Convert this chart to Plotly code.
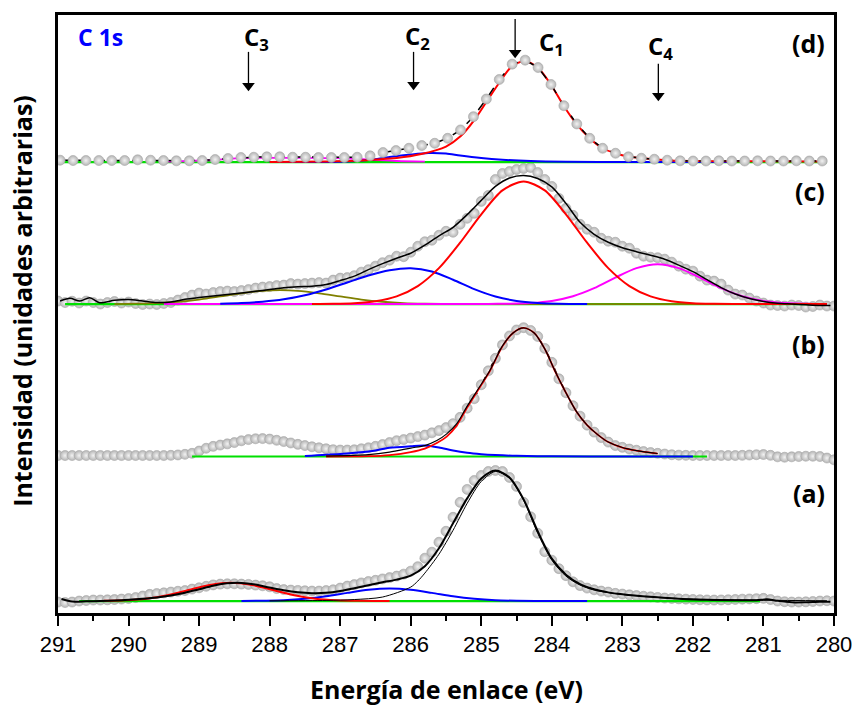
import plotly.graph_objects as go

# ---------------- energy grids (eV) ----------------
E_FINE = [round(291.0 - 0.1 * i, 1) for i in range(111)]      # spectra a, b, c
E_D = [round(290.97 - 0.1831 * i, 3) for i in range(60)]        # spectrum d

# vertical offsets of the stacked spectra (arbitrary units)
OFFSET_A, OFFSET_B, OFFSET_C, OFFSET_D = 12.0, 157.0, 310.0, 452.5

# ---------------- spectrum (d) ----------------
D_DATA = [1.8, 1.5, 1.5, 1.5, 1.5, 1.5, 2.2, 1.8, 1.5, 1.2, 1.2, 1.5, 2.5, 3.5, 4.5, 4.8,
          5.2, 5.2, 4.8, 4.8, 4.5, 4.5, 4.5, 4.8, 6.2, 9.5, 11.5, 13.8, 16.5, 18.8, 23.8,
          32.2, 45.5, 63.2, 82.8, 98.2, 102.2, 94.8, 77.8, 56.5, 38.2, 23.8, 13.8, 8.8,
          5.2, 3.8, 2.8, 1.8,
          1.2, 1.0, 1.0, 1.2, 1.0, 1.0, 1.2, 1.0, 1.0, 1.2, 1.0, 1.0]
D_RED_E = [288.0, 287.2, 286.8, 286.5, 286.2, 285.85, 285.5, 285.29, 285.11, 284.93, 284.74,
           284.56, 284.38, 284.19, 284.01, 283.83, 283.65, 283.46, 283.28, 283.10, 282.91,
           282.73, 282.55, 282.36, 282.18, 281.5, 280.2]
D_RED = [0.0, 0.5, 1.2, 2.5, 4.0, 8.0, 15.5, 26.0, 41.0, 60.0, 80.0, 96.5, 101.0, 94.0, 77.3,
         56.2, 38.0, 23.7, 13.8, 8.8, 5.2, 3.8, 2.8, 1.8, 1.2, 0.8, 0.6]
D_BLUE_E = [288.0, 287.0, 286.6, 286.3, 286.0, 285.75, 285.5, 285.3, 285.0, 284.7, 284.3,
            283.8, 283.0, 281.5]
D_BLUE = [0.0, 0.3, 2.0, 5.0, 7.5, 9.0, 8.5, 6.5, 4.0, 2.3, 1.0, 0.3, 0.0, 0.0]
D_MAG_E = [289.5, 288.8, 288.4, 288.0, 287.5, 287.0, 286.6, 286.2, 285.8]
D_MAG = [0.3, 2.0, 3.8, 4.2, 4.2, 3.8, 2.5, 1.0, 0.3]
D_BASE_E = [291.0, 280.1]
D_BASE = [-0.2, -0.2]

# ---------------- spectrum (c) ----------------
C_DATA = [3.0, 1.5, 2.8, 1.0, 3.0, 1.5, 0.0, 1.5, 2.5, 1.0,
          2.0, 0.5, -0.5, 0.0, -0.5, 0.5, 1.5, 4.0, 6.5, 9.0,
          11.0, 10.0, 11.5, 12.5, 13.0, 12.5, 13.5, 14.5, 16.0, 17.0,
          17.5, 18.5, 19.0, 20.5, 20.0, 20.5, 21.0, 21.5, 21.0, 24.0,
          26.0, 26.5, 28.5, 32.0, 34.5, 38.0, 41.5, 44.0, 48.0, 47.5,
          52.0, 58.0, 62.5, 64.0, 69.0, 73.0, 72.0, 80.0, 86.0, 91.0,
          103.0, 109.0, 125.0, 131.0, 133.0, 135.0, 136.0, 137.0, 132.0, 125.0,
          118.0, 106.0, 96.0, 89.0, 80.0, 75.0, 72.0, 66.0, 63.0, 62.0,
          58.0, 56.0, 51.0, 48.0, 47.0, 46.5, 45.0, 42.0, 38.0, 35.0,
          33.0, 28.0, 24.0, 23.0, 20.0, 14.0, 10.0, 9.0, 6.0, 3.0,
          1.0, -1.0, -1.5, -2.0, -1.0, -1.5, -3.0, -2.5, -1.0, -2.0,
          -2.0]
C_FIT_E = [290.97, 290.83, 290.69, 290.55, 290.41, 290.2, 290.0, 289.8, 289.6, 289.4, 289.2,
           289.0, 288.8, 288.6, 288.4, 288.2, 288.0, 287.8, 287.6, 287.4, 287.2, 287.0, 286.8,
           286.6, 286.4, 286.2, 286.0, 285.8, 285.6, 285.4, 285.2, 285.0, 284.8, 284.6, 284.4,
           284.2, 284.0, 283.8, 283.6, 283.4, 283.2, 283.0, 282.8, 282.6, 282.4, 282.2, 282.0,
           281.8, 281.6, 281.4, 281.2, 281.0, 280.8, 280.6, 280.4, 280.2, 280.05]
C_FIT = [3.0, 5.7, 3.0, 6.3, 1.3, 3.7, 4.5, 3.0, 1.5, 2.0, 4.7,
         6.5, 8.0, 9.5, 11.0, 12.8, 14.5, 16.3, 17.3, 17.8, 19.5, 23.5, 28.0,
         34.5, 40.5, 46.0, 51.0, 59.0, 68.5, 77.0, 89.7, 104.0, 118.0, 126.5, 129.0,
         126.0, 117.5, 101.0, 82.0, 70.0, 62.0, 56.5, 52.5, 49.0, 45.0, 39.0, 32.5,
         24.5, 16.5, 10.0, 5.5, 2.5, 0.8, 0.0, -0.8, -1.5, -1.5]
C_RED_E = [287.4, 287.1, 286.8, 286.5, 286.2, 285.9, 285.6, 285.3, 285.0, 284.7, 284.4, 284.1,
           283.8, 283.5, 283.2, 282.9, 282.6, 282.3, 282.0, 281.7, 281.2, 280.6, 280.1]
C_RED = [0.0, 0.2, 0.9, 2.8, 7.7, 18.0, 36.0, 61.5, 90.0, 114.0, 123.0, 114.0,
         90.0, 61.5, 36.0, 18.0, 7.7, 2.8, 0.9, 0.3, 0.0, 0.0, 0.0]
C_BLUE_E = [288.7, 288.4, 288.1, 287.8, 287.5, 287.2, 286.9, 286.6, 286.3, 286.0, 285.7,
            285.4, 285.1, 284.8, 284.5, 284.2, 283.9, 283.5]
C_BLUE = [0.3, 1.0, 2.3, 4.7, 8.8, 14.6, 21.6, 28.7, 34.0, 36.0, 32.7,
          24.4, 15.0, 7.6, 3.1, 1.1, 0.3, 0.0]
C_MAG_E = [289.5, 287.0, 285.5, 284.9, 284.6, 284.3, 284.0, 283.7, 283.4, 283.1, 282.8,
           282.5, 282.2, 281.9, 281.6, 281.3, 281.0, 280.7, 280.4, 280.1]
C_MAG = [0.0, 0.0, 0.0, 0.1, 0.3, 1.0, 3.1, 7.8, 15.9, 26.5, 36.0,
         40.0, 36.0, 26.5, 15.9, 7.8, 3.1, 1.0, 0.3, 0.0]
C_OLIVE_E = [290.2, 289.9, 289.6, 289.3, 289.0, 288.7, 288.4, 288.1, 287.85, 287.6, 287.3,
             287.0, 286.7, 286.4, 286.1, 285.8, 285.4, 284.5, 283.0, 281.5, 280.1]
C_OLIVE = [0.0, 0.4, 1.0, 2.3, 4.5, 7.6, 10.8, 13.3, 14.0, 13.3, 10.8,
           7.6, 4.5, 2.3, 1.0, 0.4, 0.0, 0.0, 0.0, 0.0, 0.0]
C_BASE_E = [290.9, 280.1]
C_BASE = [0.0, 0.0]

# ---------------- spectrum (b) ----------------
B_DATA = [1.0, 1.0, 1.0, 1.0, 1.0, 1.0, 1.0, 1.0, 1.0, 1.0,
          1.0, 1.0, 1.0, 1.0, 1.0, 1.0, 1.2, 1.6, 2.2, 3.2,
          5.5, 8.3, 10.2, 11.5, 12.7, 14.0, 15.8, 17.0, 17.8, 18.0,
          17.5, 16.3, 15.0, 13.6, 12.2, 11.0, 9.8, 8.8, 7.8, 6.9,
          6.5, 6.5, 6.8, 7.8, 8.8, 10.2, 12.0, 14.0, 15.9, 17.0,
          18.5, 20.0, 21.5, 23.8, 26.0, 29.0, 33.0, 39.3, 48.5, 58.0,
          72.0, 86.0, 98.5, 112.0, 121.0, 127.0, 129.3, 126.5, 120.5, 108.5,
          94.5, 78.0, 64.0, 51.0, 40.5, 31.5, 24.5, 19.0, 14.5, 11.0,
          9.2, 7.5, 6.3, 5.0, 4.0, 3.2, 2.5, 1.8, 1.4, 1.2,
          1.0, 1.0, 1.0, 1.0, 1.0, 1.0, 1.0, 1.2, 1.5, 1.8,
          2.0, 1.2, -0.3, -0.7, -0.3, 0.0, 0.3, 0.3, 0.0, -1.5,
          -3.3]
B_FIT_E = [287.2, 286.6, 286.3, 286.0, 285.8, 285.63, 285.49, 285.35, 285.21, 285.06, 284.88,
           284.7, 284.55, 284.4, 284.25, 284.1, 283.95, 283.8, 283.65, 283.5, 283.35, 283.2,
           283.0, 282.8, 282.5]
B_FIT = [0.5, 2.0, 4.5, 8.5, 11.0, 16.0, 22.7, 32.7, 49.3, 66.0, 86.0,
         111.0, 124.0, 129.0, 124.0, 108.0, 85.0, 64.0, 45.0, 31.5, 22.0, 14.5,
         9.0, 6.0, 3.0]
B_RED = [0.0, 0.3, 1.5, 4.5, 8.0, 13.5, 20.0, 31.0, 48.0, 65.0, 85.5,
         110.5, 124.0, 129.0, 124.0, 108.0, 85.0, 64.0, 45.0, 31.5, 22.0, 14.5,
         9.0, 6.0, 3.0]
B_BLUE_E = [287.5, 287.0, 286.6, 286.3, 286.0, 285.8, 285.6, 285.4, 285.2, 285.0, 284.8,
            284.5, 284.0, 283.0, 282.0]
B_BLUE = [0.5, 2.5, 5.0, 8.7, 10.3, 11.0, 9.0, 6.0, 3.8, 2.4, 1.5, 0.7, 0.2, 0.0, 0.0]
B_BASE_E = [289.1, 281.8]
B_BASE = [0.0, 0.0]

# ---------------- spectrum (a) ----------------
A_DATA = [-1.0, -1.5, -1.0, 0.0, 0.5, 1.0, 1.0, 1.2, 1.5, 2.0,
          2.5, 3.5, 5.0, 6.7, 7.5, 8.2, 9.0, 9.8, 10.5, 12.0,
          13.3, 14.8, 16.2, 17.0, 17.3, 17.3, 17.0, 16.7, 16.0, 15.3,
          14.3, 12.5, 11.5, 11.0, 10.7, 10.3, 10.0, 10.0, 10.5, 11.3,
          13.0, 15.0, 16.5, 18.2, 19.6, 20.8, 22.2, 23.5, 25.0, 27.0,
          30.0, 34.5, 43.0, 49.0, 59.0, 70.0, 84.0, 99.0, 112.0, 121.0,
          126.0, 130.0, 131.0, 130.0, 124.0, 115.0, 99.0, 84.5, 68.0, 49.5,
          41.0, 32.5, 25.5, 19.3, 15.5, 13.0, 11.3, 10.0, 9.0, 7.7,
          7.0, 6.2, 5.5, 4.8, 4.2, 3.6, 3.0, 2.6, 2.2, 1.9,
          1.6, 1.3, 1.1, 1.0, 1.1, 1.3, 1.6, 1.9, 2.1, 2.4,
          2.7, 1.5, 0.0, -0.7, -1.0, -1.0, -0.8, -0.5, 0.0, 0.3,
          0.0]
A_FIT_E = [290.95, 290.8, 290.6, 290.4, 290.2, 290.0, 289.8, 289.6, 289.4, 289.2, 289.0,
           288.8, 288.6, 288.4, 288.2, 288.0, 287.8, 287.6, 287.4, 287.2, 287.0, 286.8,
           286.6, 286.4, 286.2, 286.0, 285.8, 285.6, 285.4, 285.2, 285.0, 284.8, 284.6,
           284.4, 284.2, 284.0, 283.8, 283.6, 283.4, 283.2, 283.0, 282.6, 282.2, 281.8,
           281.4, 281.1, 280.95, 280.8, 280.6, 280.4, 280.2, 280.05]
A_FIT = [2.0, -0.5, -0.3, 0.0, 0.5, 1.2, 2.2, 3.5, 5.5, 8.3, 11.8,
         15.3, 17.8, 18.2, 16.5, 13.5, 10.8, 8.8, 7.9, 8.2, 10.0, 12.8,
         15.8, 18.8, 21.5, 25.5, 35.0, 53.0, 78.0, 103.0, 123.0, 131.0, 124.0,
         102.0, 70.0, 42.5, 26.5, 17.0, 11.8, 8.7, 6.8, 4.2, 2.4, 1.2,
         0.8, 0.8, 1.8, 0.2, -1.3, -1.2, -0.6, -0.7]
A_C1_E = [288.0, 287.2, 286.8, 286.4, 286.0, 285.9, 285.8, 285.6, 285.4, 285.2, 285.0, 284.8,
          284.6, 284.4, 284.2, 284.0, 283.8, 283.6, 283.4, 283.1, 282.7, 282.3, 281.8, 281.0,
          280.1]
A_C1 = [0.2, 0.6, 1.5, 4.0, 14.0, 20.0, 28.0, 47.0, 71.0, 98.0, 120.0, 130.0,
        123.0, 101.0, 68.0, 41.0, 25.0, 16.0, 11.0, 7.5, 4.6, 2.8, 1.6, 0.8, 0.3]
A_RED_E = [290.35, 290.05, 289.75, 289.45, 289.15, 288.85, 288.55, 288.25, 287.95, 287.65,
           287.35, 287.05, 286.75, 286.3]
A_RED = [0.2, 0.8, 2.4, 5.8, 11.0, 16.1, 18.3, 16.1, 11.0, 5.8, 2.4, 0.8, 0.2, 0.0]
A_BLUE_E = [288.4, 288.1, 287.8, 287.5, 287.2, 286.9, 286.6, 286.3, 286.0, 285.7, 285.4,
            285.1, 284.8, 284.5, 284.0, 283.5]
A_BLUE = [0.0, 0.3, 0.8, 2.2, 4.7, 8.2, 11.4, 12.7, 11.4, 8.2, 4.7, 2.2, 0.8, 0.3, 0.0, 0.0]
A_BASE_E = [290.7, 281.05]
A_BASE = [0.0, 0.0]

# ---------------- labels ----------------
PANEL_LABELS = ["(a)", "(b)", "(c)", "(d)"]
PANEL_LABEL_Y = [120.0, 270.0, 423.0, 572.0]
PEAK_LABELS = ["C<sub>1</sub>", "C<sub>2</sub>", "C<sub>3</sub>", "C<sub>4</sub>"]
PEAK_LABEL_E = [284.01, 285.91, 288.19, 282.46]
PEAK_LABEL_Y = [572.0, 578.0, 577.0, 568.0]
PEAK_ARROW_E = [284.52, 285.96, 288.30, 282.49]
PEAK_ARROW_TIP = [556.0, 524.0, 523.0, 513.0]
PEAK_ARROW_TAIL = [596.0, 563.0, 563.0, 551.0]

RED, BLUE, MAG, OLIVE, GREEN = "#ff0000", "#0000ff", "#ff00ff", "#808000", "#00e000"
TITLE_FONT = "Open Sans"

fig = go.Figure()


def add_line(xs, ys, offset, color, width=2.0, dash="solid"):
    fig.add_trace(go.Scatter(
        x=xs, y=[offset + v for v in ys], mode="lines",
        line=dict(color=color, width=width, dash=dash, shape="spline", smoothing=0.8),
        hoverinfo="skip"))


def add_points(xs, ys, offset, connect=False):
    fig.add_trace(go.Scatter(
        x=xs, y=[offset + v for v in ys],
        mode="lines+markers" if connect else "markers",
        line=dict(color="black", width=1.5, dash="dash"),
        marker=dict(size=10, color="#b5b5b5",
                    gradient=dict(type="radial", color="#f2f2f2"),
                    line=dict(color="#a6a6a6", width=0.6)),
        hoverinfo="skip"))


# (a)
add_points(E_FINE, A_DATA, OFFSET_A)
add_line(A_BASE_E, A_BASE, OFFSET_A, GREEN, 2.2)
add_line(A_BLUE_E, A_BLUE, OFFSET_A, BLUE, 2.0)
add_line(A_RED_E, A_RED, OFFSET_A, RED, 2.0)
add_line(A_C1_E, A_C1, OFFSET_A, "black", 1.0)
add_line(A_FIT_E, A_FIT, OFFSET_A, "black", 2.0)

# (b)
add_points(E_FINE, B_DATA, OFFSET_B, connect=True)
add_line(B_BASE_E, B_BASE, OFFSET_B, GREEN, 2.2)
add_line(B_BLUE_E, B_BLUE, OFFSET_B, BLUE, 2.0)
add_line(B_FIT_E, B_RED, OFFSET_B, RED, 1.8)
add_line(B_FIT_E, B_FIT, OFFSET_B, "black", 1.2)

# (c)
add_points(E_FINE, C_DATA, OFFSET_C)
add_line(C_BASE_E, C_BASE, OFFSET_C, GREEN, 2.2)
add_line(C_OLIVE_E, C_OLIVE, OFFSET_C, OLIVE, 1.8)
add_line(C_MAG_E, C_MAG, OFFSET_C, MAG, 2.0)
add_line(C_BLUE_E, C_BLUE, OFFSET_C, BLUE, 2.0)
add_line(C_RED_E, C_RED, OFFSET_C, RED, 2.0)
add_line(C_FIT_E, C_FIT, OFFSET_C, "black", 1.5)

# (d)
add_line(D_BASE_E, D_BASE, OFFSET_D, GREEN, 2.2)
add_line(D_MAG_E, D_MAG, OFFSET_D, MAG, 1.8)
add_line(D_BLUE_E, D_BLUE, OFFSET_D, BLUE, 2.0)
add_line(D_RED_E, D_RED, OFFSET_D, RED, 2.0)
add_points(E_D, D_DATA, OFFSET_D, connect=True)

# arrows marking the component positions (shaft + filled head)
for ex, tip, tail in zip(PEAK_ARROW_E, PEAK_ARROW_TIP, PEAK_ARROW_TAIL):
    fig.add_trace(go.Scatter(x=[ex, ex], y=[tail, tip + 6], mode="lines",
                             line=dict(color="black", width=1.3), hoverinfo="skip"))
    fig.add_trace(go.Scatter(x=[ex], y=[tip + 6], mode="markers",
                             marker=dict(symbol="triangle-down", size=11, color="black",
                                         line=dict(width=0)),
                             hoverinfo="skip"))

annotations = []
for lab, yv in zip(PANEL_LABELS, PANEL_LABEL_Y):
    annotations.append(dict(x=280.1, y=yv, xref="x", yref="y", text=lab, showarrow=False,
                            xanchor="right", yanchor="middle",
                            font=dict(family=TITLE_FONT, size=25, color="black", weight="bold")))
for lab, ex, yv in zip(PEAK_LABELS, PEAK_LABEL_E, PEAK_LABEL_Y):
    annotations.append(dict(x=ex, y=yv, xref="x", yref="y", text=lab, showarrow=False,
                            xanchor="center", yanchor="middle",
                            font=dict(family=TITLE_FONT, size=24, color="black", weight="bold")))
annotations.append(dict(x=290.4, y=578, xref="x", yref="y", text="C 1s", showarrow=False,
                        xanchor="center", yanchor="middle",
                        font=dict(family=TITLE_FONT, size=23, color="#0000ff", weight="bold")))
annotations.append(dict(x=0.5, y=0, xref="paper", yref="paper", yshift=-76,
                        text="Energía de enlace (eV)", showarrow=False,
                        xanchor="center", yanchor="middle",
                        font=dict(family=TITLE_FONT, size=25, color="black", weight="bold")))
annotations.append(dict(x=0, y=0.522, xref="paper", yref="paper", xshift=-36,
                        text="Intensidad (unidades arbitrarias)", showarrow=False,
                        textangle=-90, xanchor="center", yanchor="middle",
                        font=dict(family=TITLE_FONT, size=25, color="black", weight="bold")))

fig.update_layout(
    width=864, height=705,
    margin=dict(l=58, r=24, t=13, b=92),
    plot_bgcolor="white", paper_bgcolor="white",
    showlegend=False,
    annotations=annotations,
    xaxis=dict(range=[291, 280], tick0=280, dtick=1, ticks="outside", ticklen=10, tickwidth=2,
               tickcolor="black", showline=True, linewidth=2.5, linecolor="black", mirror=True,
               showgrid=False, zeroline=False,
               tickfont=dict(family="Liberation Sans", size=22, color="black"),
               minor=dict(dtick=0.5, ticks="outside", ticklen=5, tickwidth=2, tickcolor="black")),
    yaxis=dict(range=[0, 600], showticklabels=False, ticks="", showline=True, linewidth=2.5,
               linecolor="black", mirror=True, showgrid=False, zeroline=False),
)

fig.write_html("out.html", config={"displayModeBar": False},
               post_script="document.body.style.margin='0';")
